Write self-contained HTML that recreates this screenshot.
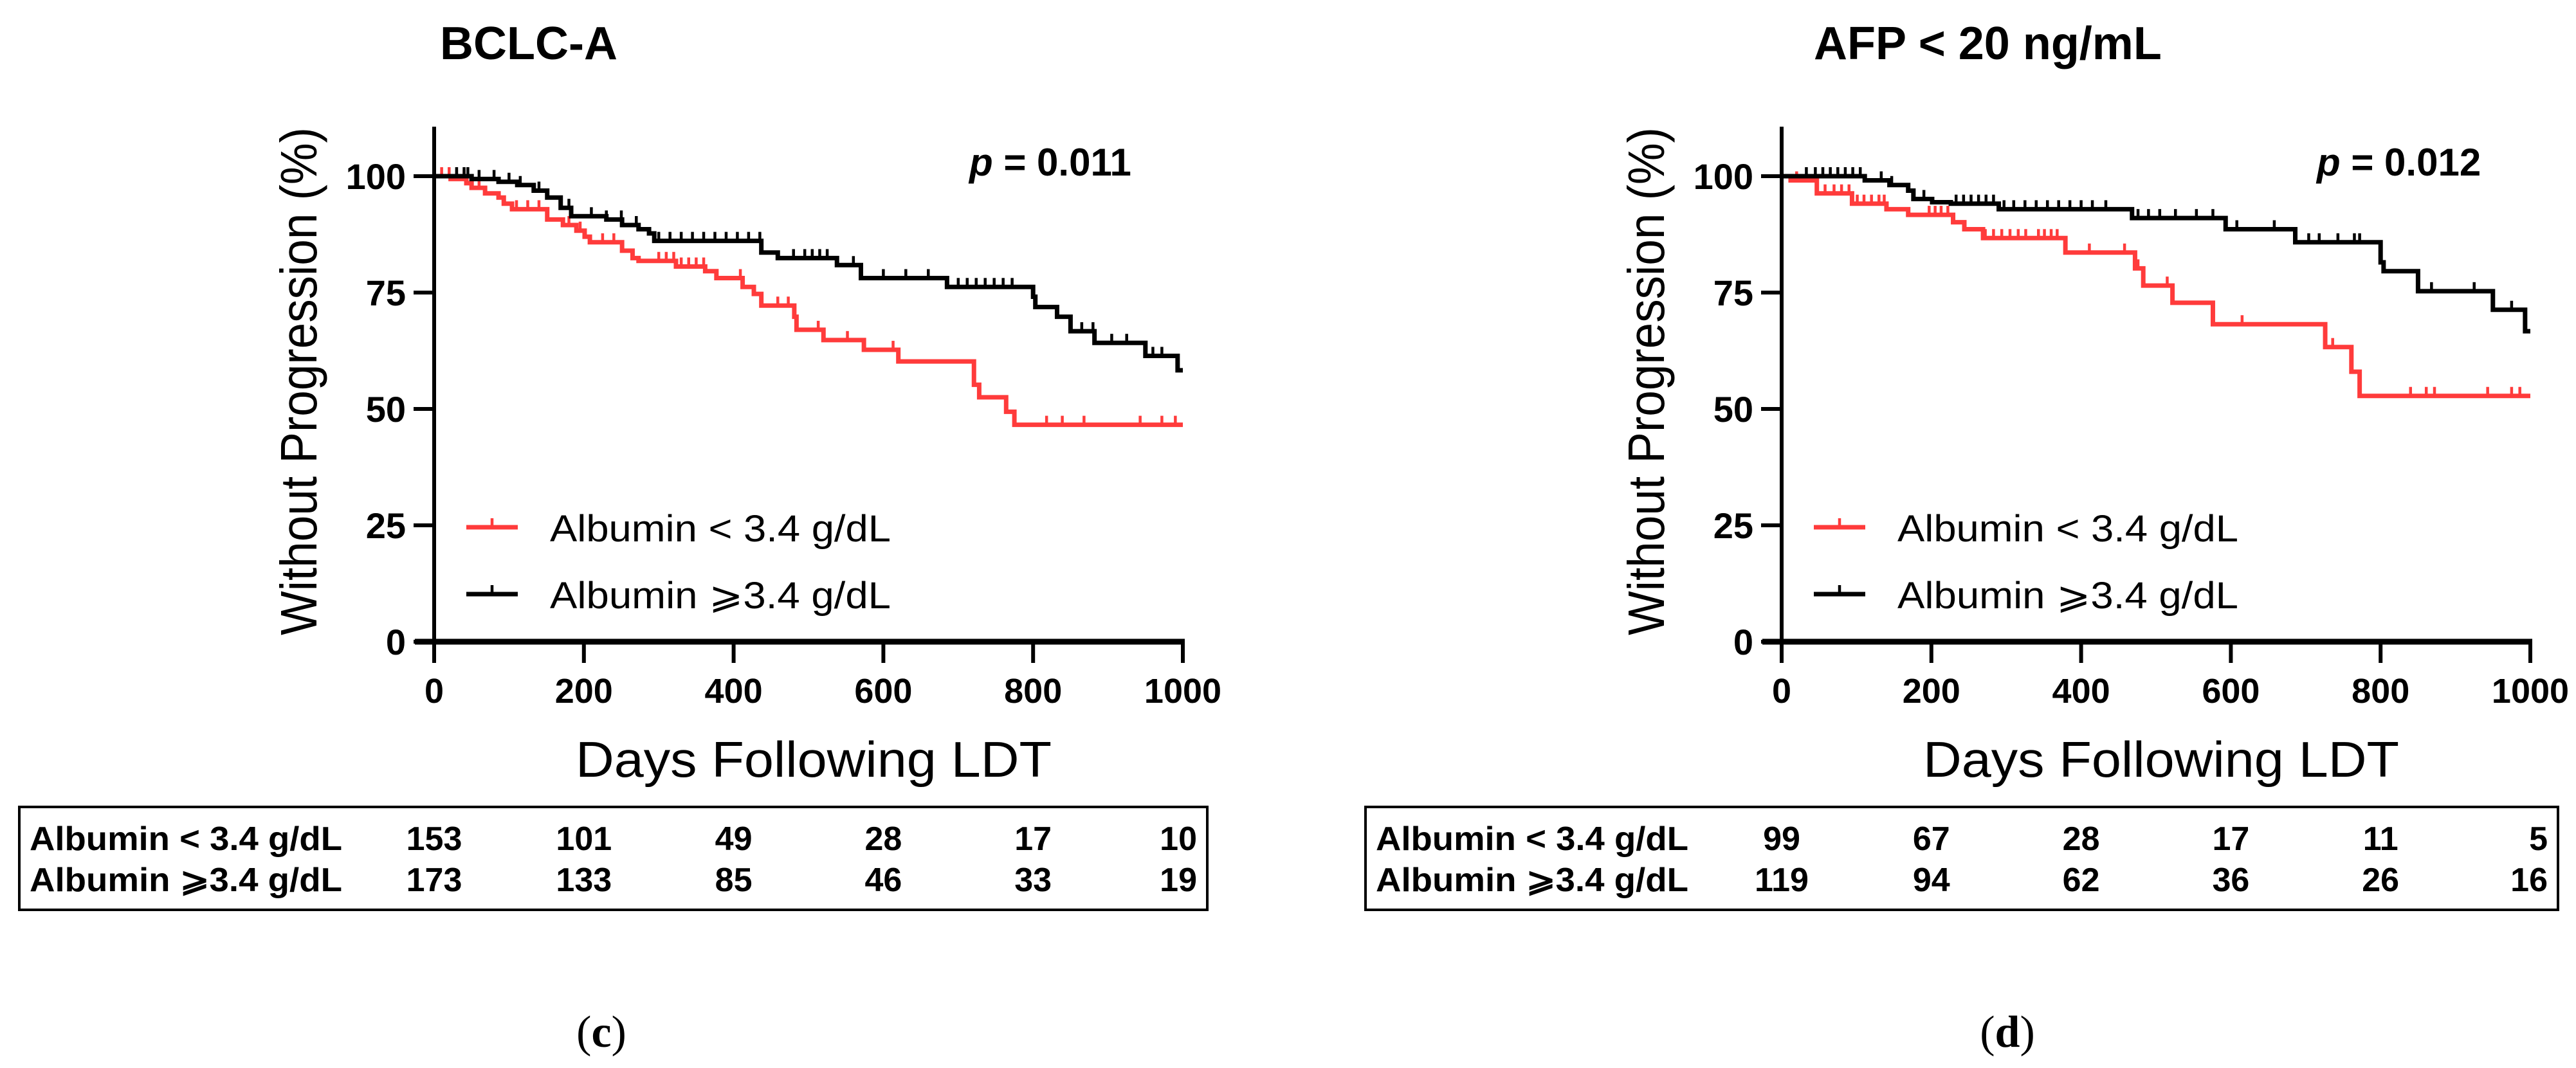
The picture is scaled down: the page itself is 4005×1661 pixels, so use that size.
<!DOCTYPE html>
<html><head><meta charset="utf-8"><style>
html,body{margin:0;padding:0;background:#fff;}
svg{display:block;font-family:"Liberation Sans",Arial,sans-serif;}
</style></head><body>
<svg id="fig" width="4005" height="1661" viewBox="0 0 4005 1661" xmlns="http://www.w3.org/2000/svg"></svg>
<script>
// ---- data ----
const xTicks = [0, 200, 400, 600, 800, 1000];
const yTicks = [0, 25, 50, 75, 100];
const titles = ["BCLC-A", "AFP < 20 ng/mL"];
const pValues = ["0.011", "0.012"];
const panelLabels = ["c", "d"];
const seriesNames = ["Albumin < 3.4 g/dL", "Albumin \u2A7E3.4 g/dL"];

// Panel c (left): step curves [day, survival%]
const cLowSteps = [[22,99.4],[43,98.5],[50,97.5],[68,96.3],[86,95.4],[93,94.1],[104,92.9],[151,90.7],[172,89.5],[190,88.3],[201,87.0],[208,85.8],[251,84.0],[265,82.4],[273,81.8],[323,80.6],[362,79.6],[377,78.1],[412,76.2],[427,74.7],[437,72.2],[481,69.8],[484,67.0],[520,64.8],[574,62.7],[620,60.2],[721,55.2],[728,52.5],[764,49.4],[775,46.6]];
const cHighSteps = [[50,99.4],[86,98.8],[111,98.1],[133,96.9],[151,95.4],[169,93.2],[183,91.4],[230,90.7],[251,89.5],[273,88.6],[287,87.7],[294,86.1],[437,83.6],[459,82.4],[538,80.9],[570,78.1],[685,76.2],[800,74.1],[803,71.9],[832,69.8],[850,66.7],[882,64.2],[950,61.4],[993,58.3]];
const cLowCensor = [10,20,30,40,60,110,125,140,180,195,225,240,300,310,320,330,340,350,360,409,459,473,513,552,613,818,839,868,943,972,990];
const cHighCensor = [30,40,45,60,80,100,115,140,180,210,230,250,270,300,315,330,345,360,375,390,405,420,435,480,495,505,515,525,560,600,630,660,700,712,724,736,748,760,772,865,880,905,925,960,972];
const cAtRiskLow = [153, 101, 49, 28, 17, 10];
const cAtRiskHigh = [173, 133, 85, 46, 33, 19];

// Panel d (right)
const dLowSteps = [[12,99.1],[47,96.3],[94,94.1],[140,92.9],[169,91.7],[229,90.1],[244,88.6],[269,86.7],[379,83.6],[472,80.2],[483,76.5],[522,72.8],[576,68.2],[726,63.3],[761,58.0],[772,52.8]];
const dHighSteps = [[111,99.1],[144,98.1],[169,96.9],[176,95.1],[201,94.4],[226,94.1],[290,92.9],[468,91.0],[593,88.6],[686,85.8],[800,81.5],[804,79.6],[850,75.3],[950,71.3],[993,66.7]];
const dLowCensor = [20,58,70,80,90,101,110,120,130,137,197,205,213,222,272,283,294,305,316,326,343,351,360,368,411,458,476,515,615,736,840,861,872,943,975,986];
const dHighCensor = [33,45,55,65,75,85,95,105,133,147,190,233,243,253,263,273,283,297,310,325,340,355,370,385,400,415,433,476,490,505,526,554,576,608,658,704,718,743,765,772,868,925,975];
const dAtRiskLow = [99, 67, 28, 17, 11, 5];
const dAtRiskHigh = [119, 94, 62, 36, 26, 16];

const NS = "http://www.w3.org/2000/svg";
const svg = document.getElementById("fig");
function mk(tag, attrs, parent, text) {
  const e = document.createElementNS(NS, tag);
  for (const k in attrs) e.setAttribute(k, attrs[k]);
  if (text !== undefined) e.textContent = text;
  (parent || svg).appendChild(e);
  return e;
}

function drawPanel(p) {
  const g = mk("g", {});
  
  
  const x0 = p.ax, x1 = p.ax + 1164;
  const sx = d => x0 + (d / 1000) * (x1 - x0);
  const sy = v => 998 - 7.24 * v;

  const t = mk("text", {x: p.titleX, y: 92, "font-size": 72, "font-weight": "bold"}, g, p.title);
  
  

  const pv = mk("text", {x: p.ax + 832, y: 273, "font-size": 60, "font-weight": "bold"}, g);
  
  
  mk("tspan", {"font-style": "italic"}, pv, "p");
  mk("tspan", {}, pv, " = " + p.pval);

  const ya = mk("line", {x1: x0, y1: 197, x2: x0, y2: 1002, stroke: "#000", "stroke-width": 6}, g);
  
  
  yTicks.forEach(v => {
    const tk = mk("line", {x1: x0 - 32, y1: sy(v), x2: x0, y2: sy(v), stroke: "#000", "stroke-width": 6}, g);
    
    
    const tl = mk("text", {x: x0 - 44, y: sy(v) + 20, "font-size": 56, "font-weight": "bold", "text-anchor": "end"}, g, String(v));
    
    
  });
  const xa = mk("line", {x1: x0 - 30, y1: 998, x2: x1 + 3, y2: 998, stroke: "#000", "stroke-width": 9}, g);
  
  
  xTicks.forEach(v => {
    const tk = mk("line", {x1: sx(v), y1: 998, x2: sx(v), y2: 1031, stroke: "#000", "stroke-width": 6}, g);
    
    
    const tl = mk("text", {x: sx(v), y: 1093, "font-size": 54, "font-weight": "bold", "text-anchor": "middle"}, g, String(v));
    
    
  });
  const xt = mk("text", {x: (x0 + x1) / 2 + 8, y: 1208, "font-size": 78, "text-anchor": "middle", textLength: 740, lengthAdjust: "spacingAndGlyphs"}, g, "Days Following LDT");
  
  
  const yt = mk("text", {x: 0, y: 0, "font-size": 80, "text-anchor": "middle", textLength: 790, lengthAdjust: "spacingAndGlyphs", transform: `translate(${p.ax - 183},593) rotate(-90)`}, g, "Without Progression (%)");
  
  

  function curve(steps, censor, color, name) {
    let d = `M${sx(0)},${sy(100)}`;
    steps.forEach(s => { d += ` H${sx(s[0])} V${sy(s[1])}`; });
    d += ` H${sx(1000)}`;
    const path = mk("path", {d: d, fill: "none", stroke: color, "stroke-width": 7, "stroke-linejoin": "miter"}, g);
    
    
    const valAt = day => { let v = 100; steps.forEach(s => { if (s[0] <= day) v = s[1]; }); return v; };
    censor.forEach(c => {
      const v = valAt(c);
      const m = mk("line", {x1: sx(c), y1: sy(v), x2: sx(c), y2: sy(v) - 14, stroke: color, "stroke-width": 4.5}, g);
      
      
    });
  }
  curve(p.lowSteps, p.lowCensor, "#ff3b3b", "albumin-low");
  curve(p.highSteps, p.highCensor, "#000", "albumin-high");

  [[820, "#ff3b3b", 0], [924, "#000", 1]].forEach(L => {
    const lg = mk("g", {}, g);
    
    
    mk("line", {x1: p.ax + 50, y1: L[0], x2: p.ax + 130, y2: L[0], stroke: L[1], "stroke-width": 7}, lg);
    mk("line", {x1: p.ax + 90, y1: L[0], x2: p.ax + 90, y2: L[0] - 14, stroke: L[1], "stroke-width": 4.5}, lg);
    mk("text", {x: p.ax + 180, y: L[0] + 22, "font-size": 58, textLength: 530, lengthAdjust: "spacingAndGlyphs"}, lg, seriesNames[L[2]]);
  });

  const tb = mk("rect", {x: p.boxL, y: 1255, width: p.boxR - p.boxL, height: 160, fill: "none", stroke: "#000", "stroke-width": 4}, g);
  
  
  [[1322, p.riskLow, 0], [1386, p.riskHigh, 1]].forEach(R => {
    const rl = mk("text", {x: p.boxL + 16, y: R[0], "font-size": 52, "font-weight": "bold", textLength: 486, lengthAdjust: "spacingAndGlyphs"}, g, seriesNames[R[2]]);
    
    
    R[1].forEach((n, i) => {
      const last = i === R[1].length - 1;
      const tn = mk("text", {x: last ? p.boxR - 16 : sx(xTicks[i]), y: R[0], "font-size": 52, "font-weight": "bold", "text-anchor": last ? "end" : "middle"}, g, String(n));
      
      
    });
  });

  const pl = mk("text", {x: p.labelX, y: 1628, "font-size": 70, "text-anchor": "middle", "font-family": "Liberation Serif, serif"}, g);
  
  
  mk("tspan", {}, pl, "(");
  mk("tspan", {"font-weight": "bold"}, pl, p.label);
  mk("tspan", {}, pl, ")");
}

drawPanel({ax: 675, titleX: 684, title: titles[0], pval: pValues[0], label: panelLabels[0],
  lowSteps: cLowSteps, highSteps: cHighSteps, lowCensor: cLowCensor, highCensor: cHighCensor,
  riskLow: cAtRiskLow, riskHigh: cAtRiskHigh, boxL: 30, boxR: 1877, labelX: 935});
drawPanel({ax: 2770, titleX: 2820, title: titles[1], pval: pValues[1], label: panelLabels[1],
  lowSteps: dLowSteps, highSteps: dHighSteps, lowCensor: dLowCensor, highCensor: dHighCensor,
  riskLow: dAtRiskLow, riskHigh: dAtRiskHigh, boxL: 2123, boxR: 3977, labelX: 3121});
</script>
</body></html>
